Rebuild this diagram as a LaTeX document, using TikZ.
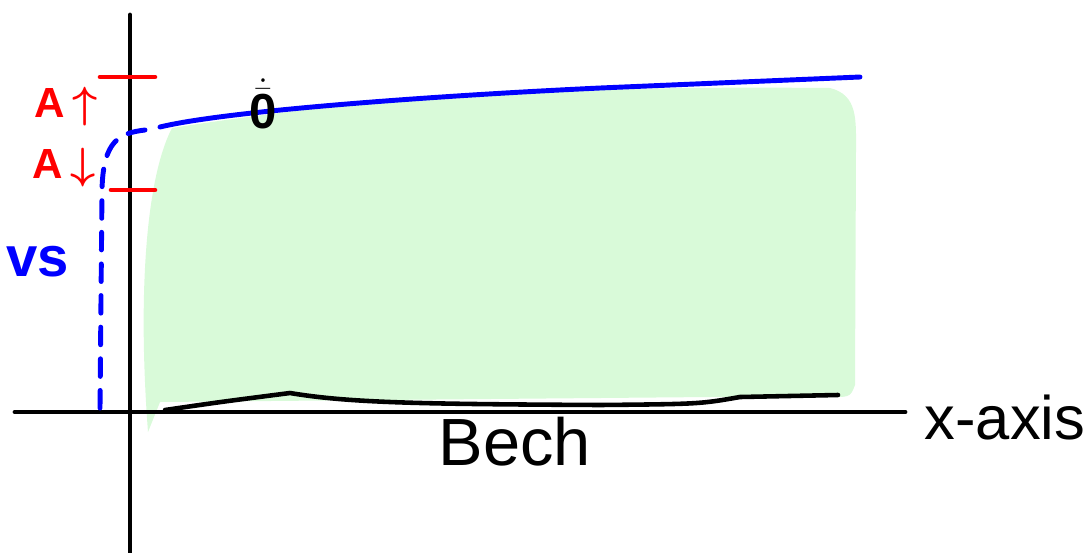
\documentclass[tikz,border=0pt]{standalone}
\usepackage{amsmath}
\usepackage{fontspec}
\setmainfont{Liberation Sans}
\definecolor{beachgreen}{RGB}{217,250,217}
\tikzset{
  axis/.style={line width=2.8pt, black},
  redtick/.style={red, line width=2.6pt},
  lbl/.style={font=\fontsize{22}{26}\selectfont, inner sep=0pt}
}
\begin{document}
\begin{tikzpicture}[x=0.02cm, y=-0.02cm, line cap=round, line join=round]
        \useasboundingbox (0,0) rectangle (1092,552);

        % Zona verde
        \fill[beachgreen] (148,432) .. controls (138,300) and (145,180) .. (172,128)
            .. controls (400,92) and (600,86) .. (830,88)
            .. controls (858,95) and (856,120) .. (856,150) -- (855,385)
            .. controls (850,398) .. (820,396) -- (160,402) -- cycle;

        % Assi
        \draw[axis] (15,412) -- (905,412);
        \draw[axis] (130,15) -- (130,552);

        % Linea di fondo
        \draw[black, line width=2.6pt] (165,410) .. controls (220,402) .. (290,393)
            .. controls (350,403) and (420,404) .. (600,405)
            .. controls (700,404) .. (740,397) -- (838,395);

        % Curva blu
        \draw[blue, line width=2.8pt, dash pattern=on 10pt off 8pt] (100,408) -- (102,190)
            .. controls (103,140) and (120,133) .. (145,130);
        \draw[blue, line width=2.8pt] (160,127) .. controls (230,110) and (450,95) .. (600,88)
            -- (860,77);

        % Tacche rosse
        \draw[redtick] (100,77) -- (155,77);
        \draw[redtick] (111,190) -- (155,190);

        % Etichette
        \node[lbl, red, font=\fontsize{24}{28}\bfseries] (aup) at (66,107) {A\,$\boldsymbol{\uparrow}$};
        \node[lbl, red, font=\fontsize{24}{28}\bfseries] (adown) at (64,168) {A\,$\boldsymbol{\downarrow}$};
        \node[lbl, blue, font=\fontsize{32}{36}\bfseries] (vs) at (38,262) {vs};
        \node[lbl, black, font=\fontsize{28}{32}\bfseries] (zero) at (263,104) {$\dot{\bar{\mathbf{0}}}$};
        \node[lbl, black, font=\fontsize{38}{42}\selectfont] (beach) at (515,442) {Bech};
        \node[lbl, black, font=\fontsize{35}{40}\selectfont] (xaxis) at (1005,418) {x-axis};
\end{tikzpicture}
\end{document}
